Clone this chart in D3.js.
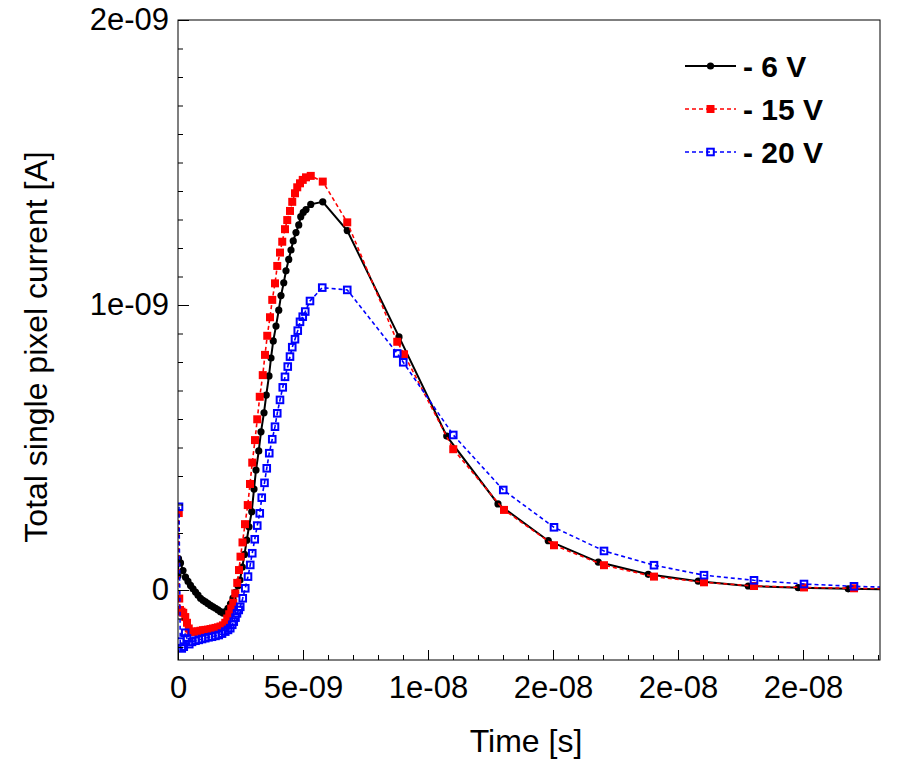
<!DOCTYPE html>
<html>
<head>
<meta charset="utf-8">
<script src="https://cdn.jsdelivr.net/npm/d3@7"></script>
<style>
  body { margin: 0; background: #fff; }
  svg { display: block; font-family: "Liberation Sans", Arial, Helvetica, sans-serif; }
</style>
</head>
<body>
<script>
// Times in ns, currents in units of 1e-9 A
const timeNeg6 = [0.00, 0.02, 0.10, 0.20, 0.30, 0.40, 0.50, 0.60, 0.70, 0.80, 0.90, 1.00, 1.10, 1.20, 1.30, 1.40, 1.50, 1.60, 1.70, 1.80, 1.90, 2.00, 2.10, 2.20, 2.30, 2.40, 2.48, 2.57, 2.66, 2.75, 2.84, 2.95, 3.04, 3.12, 3.23, 3.32, 3.44, 3.53, 3.64, 3.72, 3.81, 3.92, 4.03, 4.12, 4.23, 4.32, 4.43, 4.52, 4.61, 4.72, 4.83, 4.91, 5.01, 5.12, 5.31, 5.79, 6.77, 8.84, 10.75, 12.80, 14.81, 16.81, 18.81, 20.81, 22.81, 24.81, 26.81, 28.81];
const currentNeg6 = [0.05, 0.11, 0.095, 0.068, 0.045, 0.030, 0.016, 0.004, -0.007, -0.018, -0.029, -0.036, -0.042, -0.048, -0.054, -0.059, -0.064, -0.070, -0.076, -0.081, -0.076, -0.064, -0.049, -0.028, -0.008, 0.015, 0.035, 0.080, 0.125, 0.175, 0.222, 0.275, 0.354, 0.421, 0.488, 0.555, 0.622, 0.684, 0.751, 0.814, 0.874, 0.926, 0.982, 1.033, 1.078, 1.120, 1.160, 1.193, 1.225, 1.254, 1.281, 1.310, 1.325, 1.335, 1.353, 1.362, 1.261, 0.888, 0.540, 0.302, 0.173, 0.098, 0.055, 0.031, 0.014, 0.008, 0.004, 0.002];

const timeNeg15 = [0.03, 0.05, 0.08, 0.14, 0.21, 0.29, 0.36, 0.43, 0.50, 0.60, 0.70, 0.80, 0.90, 1.00, 1.10, 1.20, 1.30, 1.40, 1.50, 1.60, 1.70, 1.80, 1.89, 1.97, 2.05, 2.13, 2.21, 2.29, 2.37, 2.44, 2.50, 2.58, 2.68, 2.79, 2.88, 2.97, 3.08, 3.17, 3.27, 3.39, 3.48, 3.57, 3.68, 3.77, 3.88, 3.97, 4.08, 4.17, 4.28, 4.37, 4.48, 4.57, 4.68, 4.77, 4.88, 4.99, 5.12, 5.31, 5.79, 6.77, 8.77, 9.04, 11.01, 13.04, 15.04, 17.04, 19.04, 21.04, 23.04, 25.04, 27.04, 29.04];
const currentNeg15 = [0.27, -0.03, -0.07, -0.076, -0.080, -0.095, -0.115, -0.135, -0.146, -0.147, -0.146, -0.145, -0.143, -0.141, -0.140, -0.139, -0.137, -0.135, -0.133, -0.131, -0.128, -0.124, -0.115, -0.100, -0.085, -0.065, -0.045, -0.012, 0.025, 0.070, 0.117, 0.167, 0.231, 0.298, 0.372, 0.447, 0.526, 0.599, 0.678, 0.754, 0.825, 0.892, 0.957, 1.018, 1.076, 1.137, 1.184, 1.222, 1.266, 1.298, 1.330, 1.362, 1.392, 1.413, 1.427, 1.439, 1.448, 1.453, 1.433, 1.290, 0.871, 0.827, 0.494, 0.281, 0.157, 0.087, 0.047, 0.027, 0.014, 0.009, 0.006, 0.004];

const timeNeg20 = [0.04, 0.09, 0.15, 0.23, 0.29, 0.36, 0.45, 0.56, 0.70, 0.83, 0.96, 1.09, 1.22, 1.36, 1.50, 1.63, 1.76, 1.89, 2.00, 2.09, 2.17, 2.23, 2.30, 2.36, 2.43, 2.49, 2.59, 2.69, 2.80, 2.89, 2.97, 3.07, 3.17, 3.27, 3.35, 3.46, 3.55, 3.65, 3.77, 3.88, 3.97, 4.08, 4.19, 4.28, 4.39, 4.48, 4.57, 4.68, 4.79, 4.88, 4.99, 5.09, 5.28, 5.77, 6.77, 8.77, 9.01, 11.01, 13.01, 15.04, 17.04, 19.04, 21.04, 23.04, 25.04, 27.04, 29.04];
const currentNeg20 = [0.292, -0.181, -0.205, -0.199, -0.150, -0.170, -0.190, -0.182, -0.178, -0.175, -0.172, -0.169, -0.166, -0.164, -0.161, -0.158, -0.153, -0.146, -0.140, -0.134, -0.122, -0.111, -0.097, -0.082, -0.070, -0.059, -0.029, 0.006, 0.047, 0.088, 0.129, 0.178, 0.226, 0.269, 0.324, 0.376, 0.427, 0.480, 0.529, 0.573, 0.620, 0.667, 0.711, 0.748, 0.784, 0.819, 0.852, 0.880, 0.910, 0.941, 0.959, 0.977, 1.014, 1.061, 1.053, 0.830, 0.799, 0.544, 0.351, 0.220, 0.137, 0.087, 0.052, 0.034, 0.021, 0.013, 0.008];

const seriesNames = ["- 6 V", "- 15 V", "- 20 V"];

// Axis ticks (ns and 1e-9 A) with the labels as printed
const xTickValues = [0, 5, 10, 15, 20, 25];
const xTickLabels = ["0", "5e-09", "1e-08", "2e-08", "2e-08", "2e-08"];
const yTickValues = [0, 1, 2];
const yTickLabels = ["0", "1e-09", "2e-09"];

function renderGraph() {
    const width = 900;
    const height = 781;
    const marginTop = 20;
    const marginRight = 20;
    const marginBottom = 121;
    const marginLeft = 178;

    const svg = d3.select("body").append("svg")
        .attr("width", width)
        .attr("height", height)
        .attr("viewBox", [0, 0, width, height]);

    const x = d3.scaleLinear()
        .domain([0, 28.08])
        .range([marginLeft, width - marginRight]);

    const y = d3.scaleLinear()
        .domain([-0.2456, 2])
        .range([height - marginBottom, marginTop]);

    const toPoints = (ts, vs) => ts.map((t, i) => ({ t: t, v: vs[i] }));

    const series = [
        { name: seriesNames[0], data: toPoints(timeNeg6, currentNeg6), color: "#000000", dash: null, marker: "circle" },
        { name: seriesNames[1], data: toPoints(timeNeg15, currentNeg15), color: "#ff0000", dash: "4,3", marker: "square" },
        { name: seriesNames[2], data: toPoints(timeNeg20, currentNeg20), color: "#0000ff", dash: "4,3", marker: "open" }
    ];

    // clip region = frame
    svg.append("clipPath").attr("id", "frame-clip")
        .append("rect")
        .attr("x", marginLeft).attr("y", marginTop)
        .attr("width", width - marginLeft - marginRight)
        .attr("height", height - marginTop - marginBottom);

    const line = d3.line()
        .x(d => x(d.t))
        .y(d => y(d.v));

    function drawMarker(sel, s) {
        if (s.marker === "circle") {
            sel.append("circle")
                .attr("r", 3.6)
                .attr("fill", s.color);
        } else if (s.marker === "square") {
            sel.append("rect")
                .attr("x", -4).attr("y", -4)
                .attr("width", 8).attr("height", 8)
                .attr("fill", s.color);
        } else {
            sel.append("rect")
                .attr("x", -3.3).attr("y", -3.3)
                .attr("width", 6.6).attr("height", 6.6)
                .attr("fill", "none")
                .attr("stroke", s.color)
                .attr("stroke-width", 2);
        }
    }

    series.forEach(s => {
        const g = svg.append("g").attr("clip-path", "url(#frame-clip)");

        g.append("path")
            .datum(s.data)
            .attr("fill", "none")
            .attr("stroke", s.color)
            .attr("stroke-width", s.dash ? 1.6 : 2)
            .attr("stroke-dasharray", s.dash)
            .attr("d", line);

        g.selectAll(".pt")
            .data(s.data.filter(d => d.t <= x.domain()[1]))
            .enter()
            .append("g")
            .attr("class", "pt")
            .attr("transform", d => `translate(${x(d.t)},${y(d.v)})`)
            .each(function() { drawMarker(d3.select(this), s); });
    });

    // Frame
    svg.append("rect")
        .attr("x", marginLeft).attr("y", marginTop)
        .attr("width", width - marginLeft - marginRight)
        .attr("height", height - marginTop - marginBottom)
        .attr("fill", "none")
        .attr("stroke", "#000")
        .attr("stroke-width", 1);

    // x-axis: minor ticks then major ticks + labels
    svg.append("g")
        .attr("transform", `translate(0,${height - marginBottom})`)
        .call(d3.axisBottom(x).tickValues(d3.range(0, 29, 1)).tickSize(-5).tickFormat(""))
        .call(g => g.select(".domain").remove());

    svg.append("g")
        .attr("transform", `translate(0,${height - marginBottom})`)
        .call(d3.axisBottom(x)
            .tickValues(xTickValues)
            .tickSize(-10)
            .tickPadding(16)
            .tickFormat((d, i) => xTickLabels[i]))
        .call(g => g.select(".domain").remove())
        .call(g => g.selectAll("text")
            .attr("font-size", 31)
            .attr("font-family", "Liberation Sans, Arial, sans-serif")
            .attr("fill", "#000"));

    // y-axis: minor ticks then major ticks + labels
    svg.append("g")
        .attr("transform", `translate(${marginLeft},0)`)
        .call(d3.axisLeft(y).tickValues(d3.range(-2, 21, 1).map(k => k / 10)).tickSize(-5).tickFormat(""))
        .call(g => g.select(".domain").remove());

    svg.append("g")
        .attr("transform", `translate(${marginLeft},0)`)
        .call(d3.axisLeft(y)
            .tickValues(yTickValues)
            .tickSize(-11)
            .tickPadding(9)
            .tickFormat((d, i) => yTickLabels[i]))
        .call(g => g.select(".domain").remove())
        .call(g => g.selectAll("text")
            .attr("font-size", 31)
            .attr("font-family", "Liberation Sans, Arial, sans-serif")
            .attr("fill", "#000"));

    // Axis titles
    svg.append("text")
        .attr("x", 526)
        .attr("y", 752)
        .attr("text-anchor", "middle")
        .attr("font-size", 32)
        .text("Time [s]");

    svg.append("text")
        .attr("transform", "translate(47,347) rotate(-90)")
        .attr("text-anchor", "middle")
        .attr("font-size", 32)
        .text("Total single pixel current [A]");

    // Legend
    const legend = svg.append("g");
    series.forEach((s, i) => {
        const ly = 66 + i * 43;
        const row = legend.append("g").attr("transform", `translate(0,${ly})`);
        row.append("line")
            .attr("x1", 685).attr("x2", 736)
            .attr("y1", 0).attr("y2", 0)
            .attr("stroke", s.color)
            .attr("stroke-width", s.dash ? 1.6 : 2)
            .attr("stroke-dasharray", s.dash);
        const m = row.append("g").attr("transform", "translate(710.5,0)");
        drawMarker(m, s);
        row.append("text")
            .attr("x", 743)
            .attr("y", 10.5)
            .attr("font-size", 30)
            .attr("font-weight", "bold")
            .text(s.name);
    });
}

renderGraph();
</script>
</body>
</html>
